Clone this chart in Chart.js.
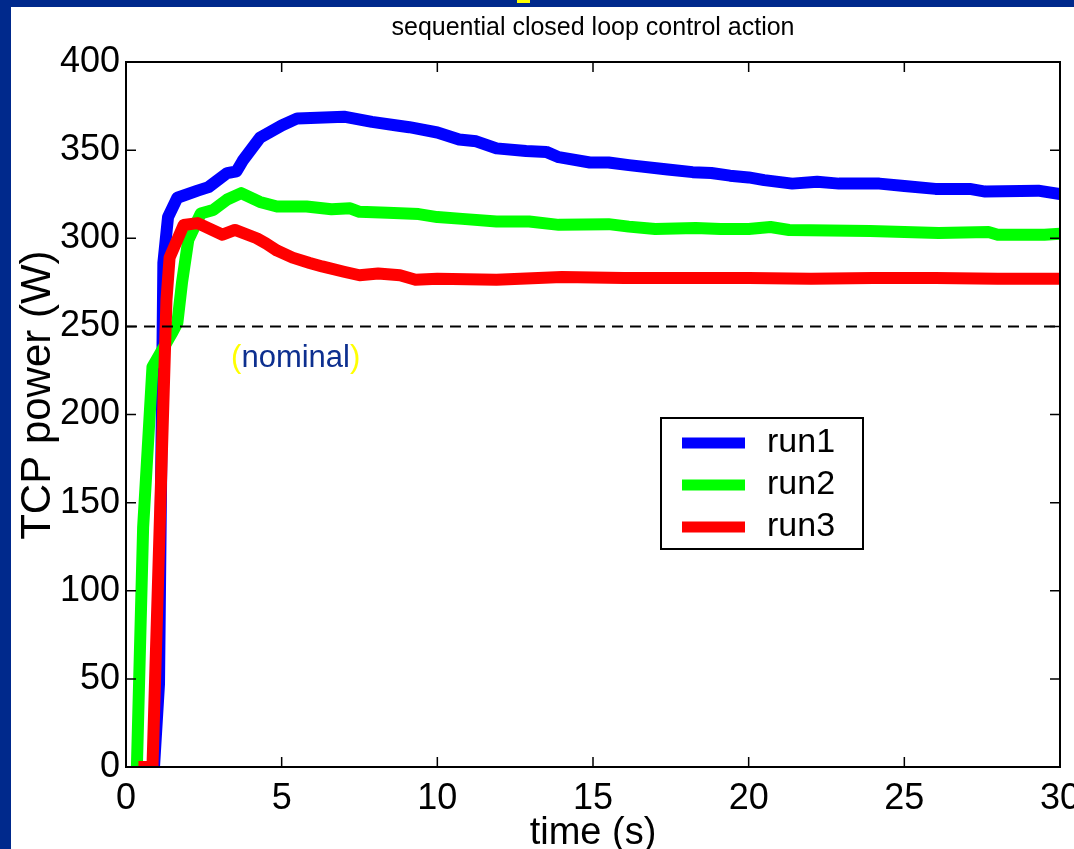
<!DOCTYPE html>
<html>
<head>
<meta charset="utf-8">
<title>TCP power - sequential closed loop control action</title>
<script src="https://cdn.jsdelivr.net/npm/chart.js@4.4.1/dist/chart.umd.min.js"></script>
<style>
    html, body { margin: 0; padding: 0; }
    body { width: 1074px; height: 849px; background: #00298c; position: relative; overflow: hidden; }
    #frame { position: absolute; left: 11px; top: 7px; width: 1063px; height: 842px; background: #fff; }
    #mark { position: absolute; left: 517px; top: 0; width: 13px; height: 3px; background: #ffff00; }
</style>
</head>
<body>
<div id="mark"></div>
<div id="frame"><canvas id="tcpChart" width="1063" height="842"></canvas></div>
<script>
// 各ランの時刻 (s) と TCP 電力 (W)
const run1Time  = [0.4, 0.9, 1.06, 1.2, 1.35, 1.65, 2.3, 2.65, 3.25, 3.55, 3.75, 4.3, 4.6, 5.0, 5.5, 7.0, 7.9, 8.7, 9.1, 10.0, 10.7, 11.25, 11.9, 12.85, 13.5, 13.9, 14.9, 15.5, 16.15, 17.4, 18.2, 18.8, 19.4, 20.0, 20.5, 21.4, 22.2, 22.9, 24.2, 25.0, 26.0, 27.1, 27.6, 29.3, 30.0];
const run1Power = [0, 0, 47, 286, 312, 323, 327, 329, 337, 338, 344, 357, 360, 364, 368, 369, 366, 364, 363, 360, 356, 355, 351, 349.5, 349, 346, 343, 343, 341.5, 339, 337.5, 337, 335.5, 334.5, 333, 331, 332, 331, 331, 329.7, 328, 328, 326.5, 327, 325];

const run2Time  = [0.35, 0.55, 0.85, 1.5, 1.65, 1.8, 2.0, 2.4, 2.8, 3.25, 3.7, 4.3, 4.85, 5.8, 6.6, 7.2, 7.5, 8.4, 9.4, 10.0, 10.8, 11.9, 12.95, 13.9, 15.5, 16.15, 17.0, 18.3, 19.1, 20.0, 20.7, 21.3, 23.9, 26.1, 27.7, 28.0, 29.5, 30.0];
const run2Power = [0, 136, 227, 247, 252, 275, 299, 314, 316, 322, 325.6, 320.6, 318, 318, 316.5, 317, 315, 314.5, 313.7, 312, 311, 309.5, 309.5, 307.6, 308, 306.6, 305.2, 305.8, 305.2, 305.2, 306.4, 304.7, 304.1, 303, 303.5, 302, 302, 302.5];

const run3Time  = [0.4, 0.85, 1.3, 1.4, 1.85, 2.3, 3.1, 3.5, 4.2, 4.5, 4.85, 5.35, 5.9, 6.3, 7.0, 7.5, 8.1, 8.8, 9.3, 10.0, 11.9, 14.0, 16.0, 18.0, 20.0, 22.0, 24.0, 26.0, 28.0, 30.0];
const run3Power = [0, 0, 265, 289, 307.5, 308.6, 302, 304.7, 300, 297, 293, 289, 286, 284, 281, 279, 280, 279, 276.5, 277, 276.5, 278, 277.5, 277.5, 277.5, 277, 277.5, 277.5, 277, 277];

const nominalTime  = [0, 30];
const nominalPower = [250, 250];

const runLabels = ['run1', 'run2', 'run3'];
const runColors = ['#0000ff', '#00ff00', '#ff0000'];

const xTicks = [0, 5, 10, 15, 20, 25, 30];
const yTicks = [0, 50, 100, 150, 200, 250, 300, 350, 400];

const FONT = "'Liberation Sans', Arial, Helvetica, sans-serif";

function toPoints(ts, vs) {
    return ts.map((t, i) => ({ x: t, y: vs[i] }));
}

// MATLAB 風の枠と内向きの目盛り
const boxPlugin = {
    id: 'boxFrame',
    afterDatasetsDraw(chart) {
        const { ctx, chartArea: { left, right, top, bottom }, scales: { x, y } } = chart;
        ctx.save();
        ctx.strokeStyle = '#000';
        ctx.lineWidth = 1.5;
        x.ticks.forEach(t => {
            const px = x.getPixelForValue(t.value);
            ctx.beginPath();
            ctx.moveTo(px, bottom); ctx.lineTo(px, bottom - 10);
            ctx.moveTo(px, top); ctx.lineTo(px, top + 10);
            ctx.stroke();
        });
        y.ticks.forEach(t => {
            const py = y.getPixelForValue(t.value);
            ctx.beginPath();
            ctx.moveTo(left, py); ctx.lineTo(left + 10, py);
            ctx.moveTo(right, py); ctx.lineTo(right - 10, py);
            ctx.stroke();
        });
        ctx.lineWidth = 2;
        ctx.strokeRect(left, top, right - left, bottom - top);
        ctx.restore();
    }
};

// 縦軸ラベル、凡例、(nominal) 注記
const notePlugin = {
    id: 'notes',
    afterDraw(chart) {
        const { ctx, chartArea: { left, top }, scales: { x, y } } = chart;
        ctx.save();

        // 縦軸ラベル（少し上寄り）
        ctx.save();
        ctx.translate(27, y.getPixelForValue(211));
        ctx.rotate(-Math.PI / 2);
        ctx.font = '42px ' + FONT;
        ctx.fillStyle = '#000';
        ctx.textAlign = 'center';
        ctx.textBaseline = 'middle';
        ctx.fillText('TCP power (W)', 0, 0);
        ctx.restore();

        // (nominal)
        ctx.font = '31px ' + FONT;
        ctx.textBaseline = 'middle';
        ctx.textAlign = 'left';
        const cx = x.getPixelForValue(5.45);
        const cy = y.getPixelForValue(232);
        const open = '(', word = 'nominal', close = ')';
        const wOpen = ctx.measureText(open).width;
        const wWord = ctx.measureText(word).width;
        const wClose = ctx.measureText(close).width;
        const sx = cx - (wOpen + wWord + wClose) / 2;
        ctx.fillStyle = '#ffff00';
        ctx.fillText(open, sx, cy);
        ctx.fillStyle = '#0d2f8f';
        ctx.fillText(word, sx + wOpen, cy);
        ctx.fillStyle = '#ffff00';
        ctx.fillText(close, sx + wOpen + wWord, cy);

        // 凡例
        const bx = left + 535, by = top + 356, bw = 202, bh = 131;
        ctx.fillStyle = '#fff';
        ctx.fillRect(bx, by, bw, bh);
        ctx.strokeStyle = '#000';
        ctx.lineWidth = 2;
        ctx.strokeRect(bx, by, bw, bh);
        ctx.font = '34px ' + FONT;
        runLabels.forEach((label, i) => {
            const ly = by + 25 + i * 42;
            ctx.strokeStyle = runColors[i];
            ctx.lineWidth = 11;
            ctx.lineCap = 'butt';
            ctx.beginPath();
            ctx.moveTo(bx + 21, ly);
            ctx.lineTo(bx + 84, ly);
            ctx.stroke();
            ctx.fillStyle = '#000';
            ctx.fillText(label, bx + 106, ly);
        });
        ctx.restore();
    }
};

Chart.defaults.font.family = FONT;
Chart.defaults.color = '#000';

function runDataset(i, ts, vs, order) {
    return {
        label: runLabels[i],
        data: toPoints(ts, vs),
        borderColor: runColors[i],
        backgroundColor: runColors[i],
        borderWidth: 12,
        pointRadius: 0,
        tension: 0,
        borderJoinStyle: 'round',
        fill: false,
        clip: 0,
        order
    };
}

new Chart(document.getElementById('tcpChart'), {
    type: 'line',
    data: {
        datasets: [
            {
                label: 'nominal',
                data: toPoints(nominalTime, nominalPower),
                borderColor: '#000',
                borderWidth: 2,
                borderDash: [11, 7],
                pointRadius: 0,
                fill: false,
                order: -1
            },
            runDataset(0, run1Time, run1Power, 2),
            runDataset(1, run2Time, run2Power, 1),
            runDataset(2, run3Time, run3Power, 0)
        ]
    },
    options: {
        responsive: false,
        animation: false,
        layout: { padding: { top: 0, right: 14, bottom: 0, left: 0 } },
        plugins: {
            legend: { display: false },
            tooltip: { enabled: false },
            title: {
                display: true,
                text: 'sequential closed loop control action',
                fullSize: false,
                font: { size: 25, weight: 'normal' },
                color: '#000',
                padding: { top: 6, bottom: 19 }
            }
        },
        scales: {
            x: {
                type: 'linear',
                min: 0,
                max: 30,
                afterBuildTicks: (s) => { s.ticks = xTicks.map(v => ({ value: v })); },
                ticks: { font: { size: 36 }, padding: 2, maxRotation: 0, autoSkip: false },
                grid: { display: false },
                border: { display: false },
                title: { display: true, text: 'time (s)', font: { size: 38 }, padding: { top: 0, bottom: -7 } },
                afterFit: (s) => { s.height = 82; s.paddingLeft = 0; s.paddingRight = 0; }
            },
            y: {
                min: 0,
                max: 400,
                afterBuildTicks: (s) => { s.ticks = yTicks.map(v => ({ value: v })); },
                ticks: { font: { size: 36 }, padding: -2, autoSkip: false },
                grid: { display: false },
                border: { display: false },
                title: { display: false },
                afterFit: (s) => { s.width = 115; s.paddingTop = 0; s.paddingBottom = 0; }
            }
        }
    },
    plugins: [boxPlugin, notePlugin]
});
</script>
</body>
</html>
